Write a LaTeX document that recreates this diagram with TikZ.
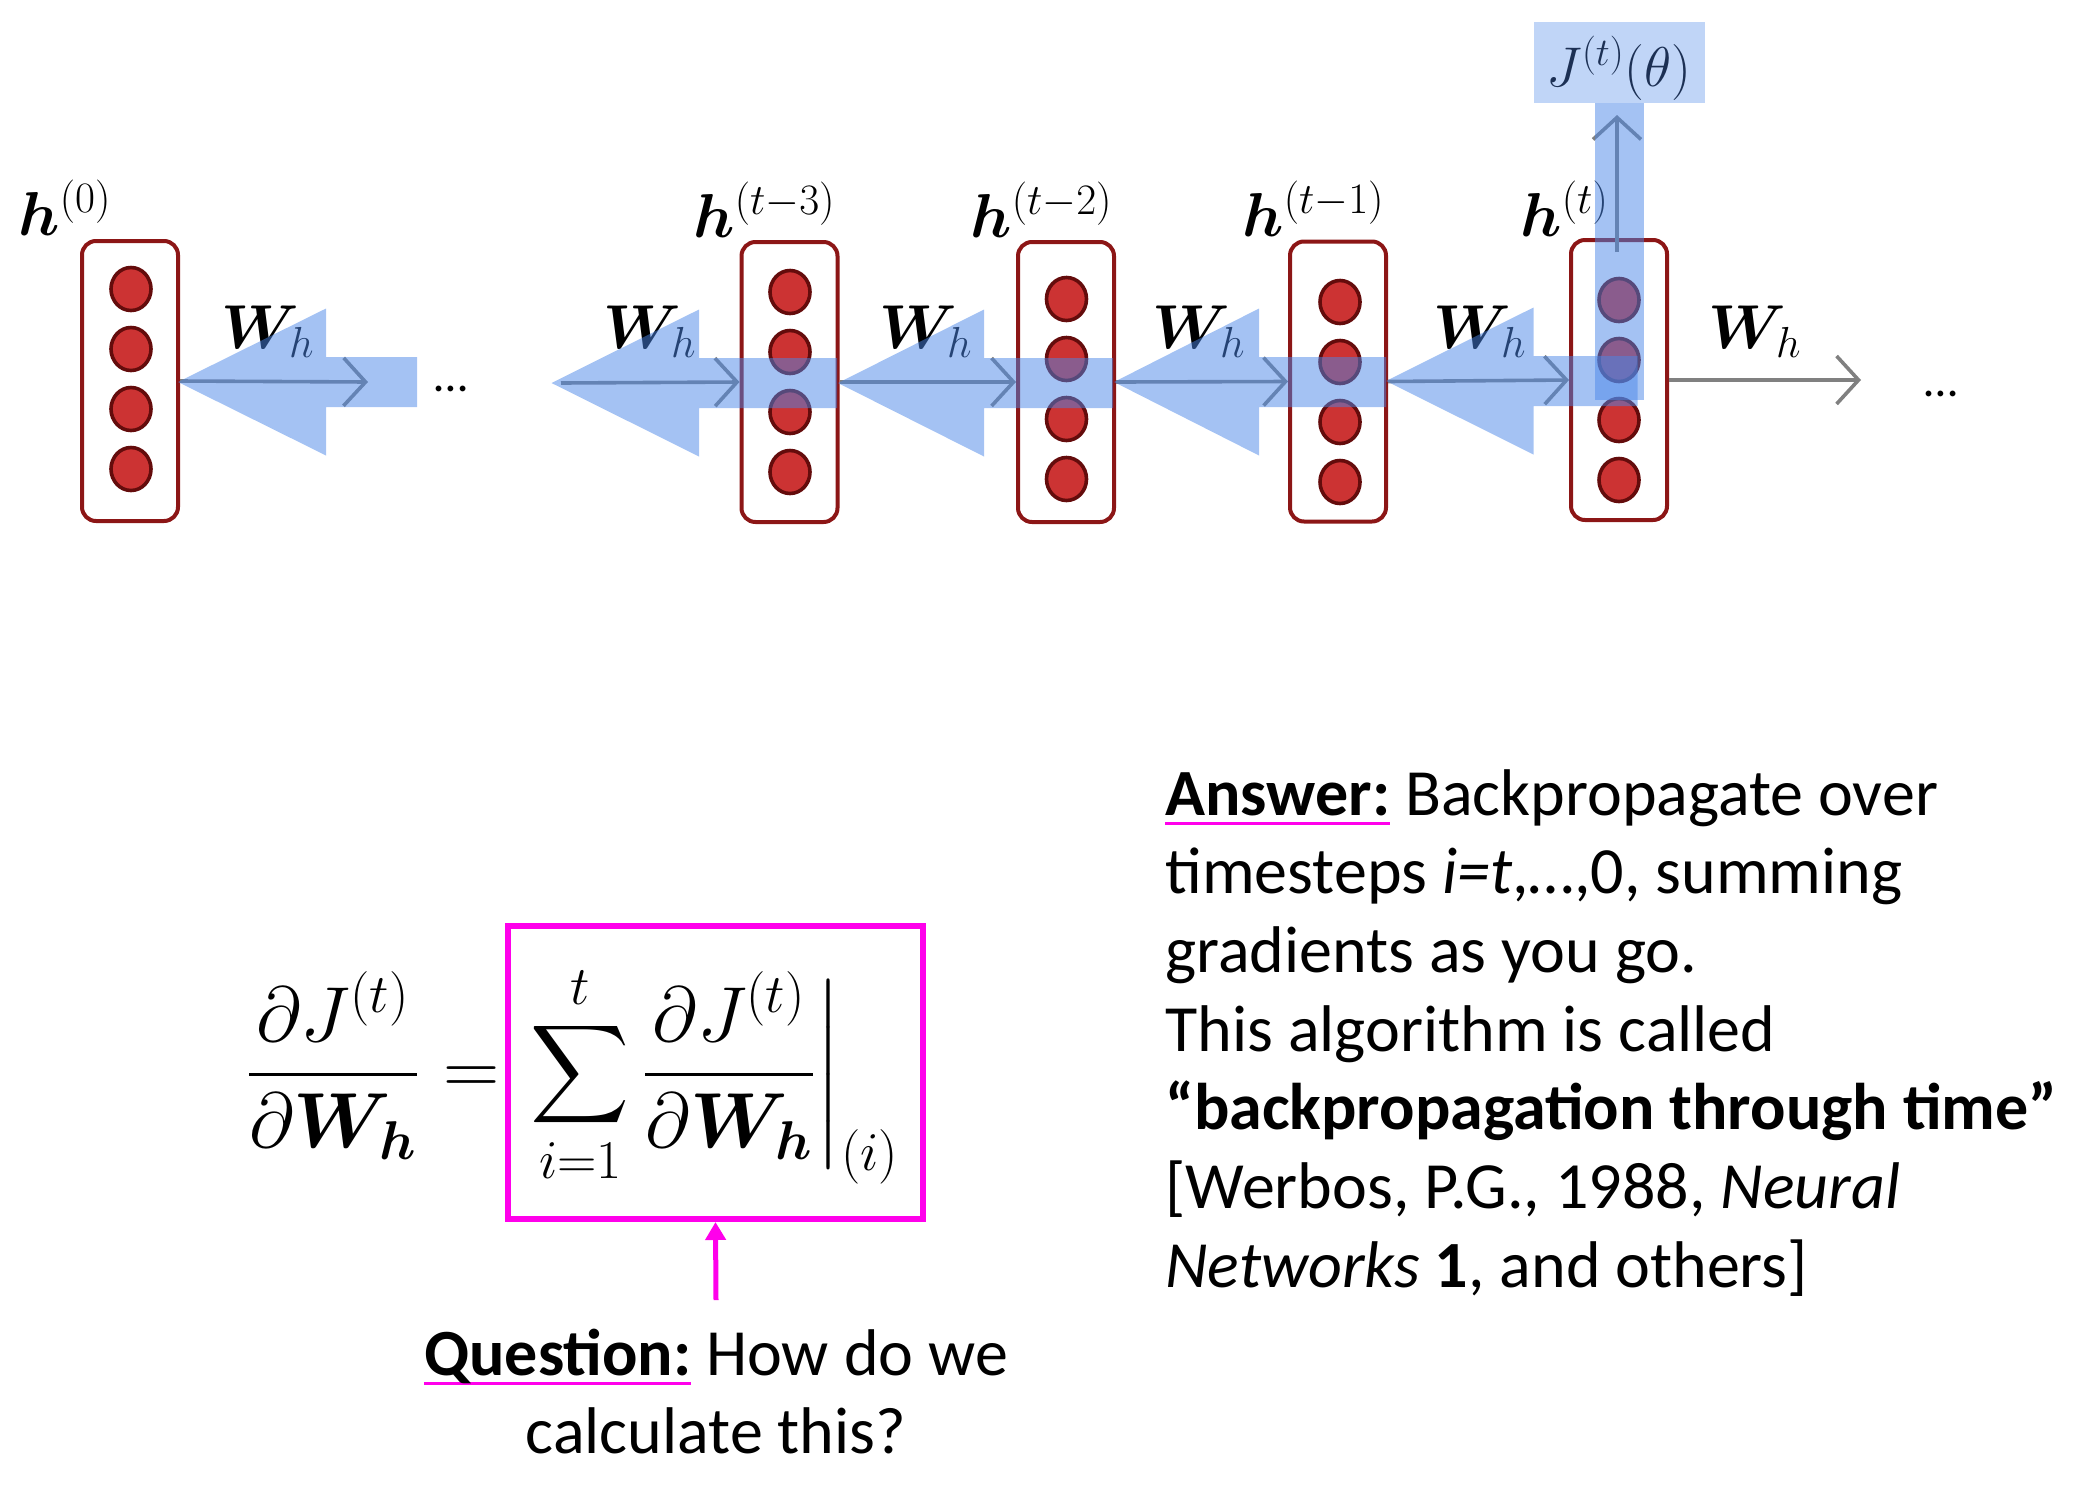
\RequirePackage{fix-cm}
\documentclass[tikz,border=0pt]{standalone}
\usepackage[no-math]{fontspec}
\usepackage{amsmath,bm,graphicx}
\DeclareFontShape{OMX}{cmex}{m}{n}{<->cmex10}{}
\newfontfamily\carlito{Carlito}
\usetikzlibrary{arrows.meta,shapes.geometric}
\definecolor{boxred}{RGB}{140,22,22}
\definecolor{dotred}{RGB}{204,51,51}
\definecolor{dotedge}{RGB}{100,12,12}
\definecolor{bpblue}{RGB}{74,134,232}
\definecolor{fwgray}{RGB}{128,128,128}
\definecolor{qmag}{RGB}{255,0,235}
\definecolor{jtext}{RGB}{28,48,84}
\newcommand\magul[1]{\setbox0=\hbox{#1}\rlap{\textcolor{qmag}{\rule[-5pt]{\wd0}{1.6pt}}}\box0\relax}
\newcommand\bparrow[4]{%
  \fill[bp] (#1,#2) -- (#3,#2-73.5) -- (#3,#2-25) -- (#4,#2-25) -- (#4,#2+25) -- (#3,#2+25) -- (#3,#2+73.5) -- cycle;}
\newcommand\units[3]{%
  \foreach \k in {0,1,2,3} {\node[unitc] (#1c\k) at (#2,#3+60*\k) {};}}
\newcommand\bigsum{\mathop{\vcenter{\hbox{\scalebox{0.88}{$\displaystyle\sum$}}}}\limits}
\begin{document}
\begin{tikzpicture}[x=0.5pt,y=-0.5pt,
  hbox/.style={draw=boxred, line width=2pt, rounded corners=7pt, minimum width=48pt, minimum height=140pt, inner sep=0pt},
  unitc/.style={shape=ellipse, draw=dotedge, line width=1.8pt, fill=dotred, minimum width=20pt, minimum height=21.5pt, inner sep=0pt},
  lab/.style={font=\fontsize{31}{36}\selectfont, inner sep=0pt, anchor=base west},
  fwd/.style={draw=fwgray, line width=1.8pt, -{Straight Barb[length=11pt,width=24pt]}},
  bp/.style={fill=bpblue, fill opacity=0.5},
  dots/.style={font=\carlito\fontsize{24}{28}\selectfont, inner sep=0pt, anchor=base},
  eqf/.style={font=\fontsize{39}{46}\selectfont, inner sep=0pt, anchor=base},
  para/.style={inner sep=0pt, font=\carlito\fontsize{33}{39.35}\selectfont}]
\path[use as bounding box] (0,0) rectangle (2089,1484);

% hidden-state boxes
\node[hbox] (h0) at (130,381) {};
\node[hbox] (h3) at (789.5,382) {};
\node[hbox] (h2) at (1066,382) {};
\node[hbox] (h1) at (1338,381.5) {};
\node[hbox] (ht) at (1619,380) {};
\units{h0}{131}{289}
\units{h3}{790}{292}
\units{h2}{1066.5}{299}
\units{h1}{1340}{302}
\units{ht}{1619}{300}

% labels
\node[lab] (lh0) at (18,235) {$\bm{h}^{(0)}$};
\node[lab] (lh3) at (693,237) {$\bm{h}^{(t-3)}$};
\node[lab] (lh2) at (970,237) {$\bm{h}^{(t-2)}$};
\node[lab] (lh1) at (1242,236) {$\bm{h}^{(t-1)}$};
\node[lab] (lht) at (1520,236) {$\bm{h}^{(t)}$};
\node[lab] (w1) at (221,348) {$\bm{W}_h$};
\node[lab] (w2) at (603,348) {$\bm{W}_h$};
\node[lab] (w3) at (879,348) {$\bm{W}_h$};
\node[lab] (w4) at (1152,348) {$\bm{W}_h$};
\node[lab] (w5) at (1433,348) {$\bm{W}_h$};
\node[lab] (w6) at (1708,348) {$\bm{W}_h$};
\node[dots] (d1) at (451,391) {…};
\node[dots] (d2) at (1941,396) {…};

% output J
\fill[bpblue, fill opacity=0.35] (1533.5,22.4) rectangle (1704.5,102.6);
\node[inner sep=0pt, text=jtext, font=\fontsize{28}{34}\selectfont, anchor=base] (J) at (1619,86) {$J^{(t)}(\theta)$};

% forward arrows
\coordinate (a1e) at (368,382);
\coordinate (a2s) at (561,383);
\coordinate (a6e) at (1861,380);
\coordinate (ups) at (1617,252);
\coordinate (upe) at (1617,115);
\draw[fwd] (h0.east) -- (a1e);
\draw[fwd] (a2s) -- (h3.west);
\draw[fwd] (h3.east) -- (h2.west);
\draw[fwd] (h2.east) -- (h1.west);
\draw[fwd] (h1.east) -- (ht.west);
\draw[fwd] (ht.east) -- (a6e);
\draw[fwd] (ups) -- (upe);

% backprop overlays
\bparrow{178}{382}{326}{417}
\bparrow{551.5}{383}{699}{837}
\bparrow{838}{383}{984}{1113}
\bparrow{1114}{382}{1259}{1386}
\bparrow{1386}{381}{1533.5}{1637.5}
\fill[bp] (1595,102.6) rectangle (1644,400);

% equation
\node[eqf] (lhs) at (333,1094) {$\displaystyle\frac{\partial J^{(t)}}{\partial \bm{W_h}}$};
\node[eqf] (eqs) at (472,1094) {$=$};
\node[eqf] (sumc) at (715,1094) {$\displaystyle\bigsum_{i=1}^{t}\frac{\partial J^{(t)}}{\partial \bm{W_h}}\bigg|_{(i)}$};
\node[draw=qmag, line width=3pt, minimum width=207.5pt, minimum height=146.5pt, inner sep=0pt] (sumbox) at (715.5,1072.5) {};
\coordinate (qtop) at (716,1300);
\draw[qmag, line width=2.5pt, -{Triangle[length=9pt,width=10pt]}] (qtop) -- (sumbox.south);

% question
\node[para, anchor=base] (q) at (716,1375)
  {\begin{tabular}[t]{@{}c@{}}\magul{\textbf{Question:}} How do we\\ calculate this?\end{tabular}};

% answer
\node[para, anchor=base west] (ans) at (1165,815)
  {\begin{tabular}[t]{@{}l@{}}
   \magul{\textbf{Answer:}} Backpropagate over\\
   timesteps \textit{i=t},…,0, summing\\
   gradients as you go.\\
   This algorithm is called\\
   \textbf{“backpropagation through time”}\\
   {[}Werbos, P.G., 1988, \textit{Neural}\\
   \textit{Networks} \textbf{1}, and others]
   \end{tabular}};
\end{tikzpicture}
\end{document}
